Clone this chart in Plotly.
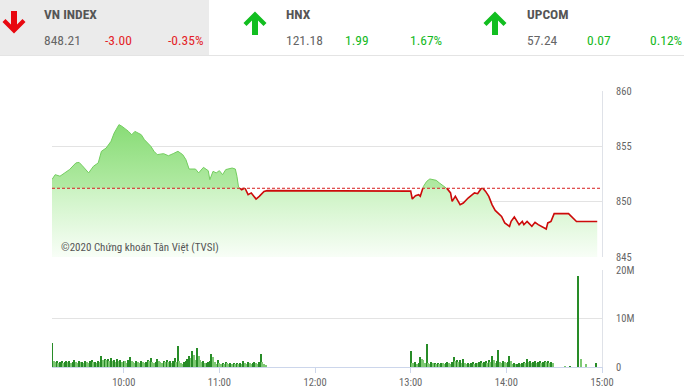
import numpy as np
import pandas as pd
import plotly.graph_objects as go

DAY = "2020-06-01"

# ---------------- data ----------------
price_times = ["09:15", "09:17", "09:20", "09:23", "09:26", "09:30", "09:32", "09:34", "09:38", "09:41",
               "09:44", "09:46", "09:49", "09:52", "09:54", "09:57", "09:59", "10:03", "10:05", "10:07",
               "10:09", "10:11", "10:13", "10:15", "10:17", "10:19", "10:21", "10:25", "10:28", "10:31",
               "10:34", "10:37", "10:39", "10:41", "10:45", "10:47", "10:50", "10:53", "10:54", "10:56",
               "10:58", "11:00", "11:02", "11:04", "11:08", "11:10", "11:11", "11:12", "11:14", "11:16",
               "11:18", "11:20", "11:23", "11:25", "11:28", "11:30",
               "13:00", "13:01", "13:03", "13:05", "13:06", "13:08", "13:10", "13:12", "13:14", "13:16",
               "13:18", "13:21", "13:23", "13:25", "13:26", "13:28", "13:31", "13:33", "13:36", "13:40",
               "13:42", "13:44", "13:45", "13:47", "13:49", "13:51", "13:53", "13:55", "13:57", "13:59",
               "14:02", "14:03", "14:05", "14:08", "14:10", "14:11", "14:13", "14:16", "14:18", "14:20",
               "14:22", "14:25", "14:26", "14:28", "14:30", "14:39", "14:44", "14:57"]
price_values = [852.00, 852.44, 852.30, 852.60, 852.90, 853.50, 853.55, 853.25, 852.60, 853.20,
                853.50, 854.55, 854.85, 855.45, 856.20, 856.96, 856.80, 856.35, 856.05, 856.35,
                856.20, 856.05, 855.60, 855.30, 855.00, 854.55, 854.25, 854.34, 854.15, 854.34,
                854.55, 854.25, 853.80, 852.95, 852.95, 852.60, 853.10, 852.80, 851.99, 852.74,
                852.60, 852.80, 852.44, 852.90, 853.04, 852.95, 852.30, 851.33, 851.08, 851.24,
                850.63, 850.79, 850.24, 850.48, 850.93, 851.00,
                850.95, 850.24, 850.54, 850.63, 850.48, 851.38, 851.83, 852.05, 851.99, 851.93,
                851.69, 851.38, 851.15, 850.79, 850.03, 850.48, 849.73, 849.88, 850.33, 850.79,
                850.72, 851.15, 851.24, 850.93, 850.48, 849.73, 849.21, 848.98, 848.67, 848.08,
                847.77, 848.22, 848.62, 847.92, 848.22, 847.92, 848.22, 847.77, 848.13, 847.92,
                847.77, 847.53, 848.08, 848.22, 848.92, 848.92, 848.21, 848.21]
ref_price = 851.21

vol_morning_start = "09:15"
vol_morning = [5.0, 1.2, 1.0, 1.3, 0.9, 1.1, 1.2, 0.8, 1.1, 1.3,
               1.0, 1.2, 0.9, 1.0, 1.4, 1.1, 0.8, 1.2, 1.0, 1.1,
               0.9, 1.3, 1.0, 0.9, 1.2, 1.5, 1.0, 1.1, 0.9, 1.3,
               1.0, 2.2, 1.4, 1.6, 1.5, 1.7, 1.3, 1.8, 1.2, 1.5,
               1.1, 1.6, 1.2, 1.4, 1.0, 1.3, 1.2, 0.9, 1.5, 2.0,
               1.3, 1.1, 0.9, 1.2, 1.0, 0.8, 1.3, 1.1, 0.9, 1.0,
               1.4, 1.2, 1.8, 1.0, 0.9, 1.1, 1.7, 1.3, 1.0, 0.8,
               1.2, 1.1, 1.5, 1.0, 1.3, 0.9, 1.2, 1.8, 1.0, 4.3,
               1.2, 0.9, 0.7, 1.0, 1.3, 1.6, 2.2, 1.8, 3.4, 2.5,
               1.4, 4.0, 2.2, 1.5, 1.0, 1.2, 0.8, 0.9, 1.0, 1.2,
               2.6, 2.1, 1.0, 0.7, 1.5, 0.8, 0.6, 0.9, 0.7, 1.0,
               0.8, 0.7, 0.9, 0.6, 0.8, 0.7, 0.9, 0.6, 0.8, 0.7,
               1.3, 0.9, 0.7, 1.0, 0.8, 0.6, 0.9, 1.1, 0.8, 0.7,
               1.0, 2.7, 1.1, 0.6, 0.4]
vol_afternoon_start = "13:00"
vol_afternoon = [3.4, 0.9, 0.8, 1.0, 0.7, 0.9, 2.0, 1.6, 1.4, 0.8,
                 4.8, 0.9, 0.7, 1.0, 0.8, 0.9, 0.6, 0.8, 0.7, 0.9,
                 0.8, 0.6, 0.9, 1.0, 0.8, 0.7, 1.1, 2.0, 1.3, 1.5,
                 1.0, 1.4, 0.9, 1.6, 0.8, 0.7, 0.9, 0.6, 0.8, 1.0,
                 0.7, 0.9, 0.8, 1.0, 1.2, 0.9, 1.1, 1.3, 0.9, 1.4,
                 1.0, 2.3, 1.5, 0.9, 1.2, 3.5, 1.1, 0.9, 1.2, 1.0,
                 0.8, 1.1, 2.3, 1.2, 0.7, 0.8, 0.6, 0.7, 0.8, 0.7,
                 0.9, 1.0, 0.8, 1.6, 1.0, 1.2, 0.9, 1.1, 1.3, 0.8,
                 1.0, 1.2, 0.9, 1.1, 1.3, 1.0, 1.2, 0.9, 1.1, 0.8]
vol_close_times = ["14:37", "14:40", "14:45", "14:47", "14:50", "14:56"]
vol_close = [0.2, 0.2, 18.7, 1.6, 0.7, 0.9]

price_ticks = [845, 850, 855, 860]
vol_ticks = [0, 10, 20]
vol_tick_labels = ["0", "10M", "20M"]
time_ticks = ["10:00", "11:00", "12:00", "13:00", "14:00", "15:00"]

index_names = ["VN INDEX", "HNX", "UPCOM"]
index_values = ["848.21", "121.18", "57.24"]
index_changes = ["-3.00", "1.99", "0.07"]
index_pcts = ["-0.35%", "1.67%", "0.12%"]
index_up = [False, True, True]
watermark = "©2020 Chứng khoán Tân Việt (TVSI)"

# ---------------- helpers ----------------
W, H = 684, 390
ML, MR = 52, 82
PW = W - ML - MR
FONT = "Liberation Sans Narrow, Roboto Condensed, Roboto, Arial, sans-serif"


def px(x):
    return (x - ML) / PW


def py(y):
    return 1 - y / H


def ts(s):
    return pd.Timestamp(f"{DAY} {s}")


# price line split at reference crossings
t = pd.to_datetime([f"{DAY} {s}" for s in price_times]).astype("int64").to_numpy()
v = np.array(price_values, dtype=float)
xs, ys = [], []
for i in range(len(v)):
    if i > 0 and (v[i - 1] - ref_price) * (v[i] - ref_price) < 0:
        f = (ref_price - v[i - 1]) / (v[i] - v[i - 1])
        xs.append(int(t[i - 1] + f * (t[i] - t[i - 1])))
        ys.append(ref_price)
    xs.append(int(t[i]))
    ys.append(v[i])
xs = pd.to_datetime(np.array(xs, dtype="int64"))
ys = np.array(ys)
green_y = [y if y >= ref_price - 1e-9 else None for y in ys]
red_y = [y if y <= ref_price + 1e-9 else None for y in ys]

# volumes
vt = (list(pd.date_range(ts(vol_morning_start), periods=len(vol_morning), freq="1min"))
      + list(pd.date_range(ts(vol_afternoon_start), periods=len(vol_afternoon), freq="1min"))
      + [ts(s) for s in vol_close_times])
vv = np.array(vol_morning + vol_afternoon + vol_close) * 1e6
vcol = ["rgb(40,140,40)" if (i == 0 or vv[i] >= vv[i - 1]) else "rgb(125,200,115)" for i in range(len(vv))]

fig = go.Figure()

lo, hi = price_ticks[0], 857.0
thr = (ref_price - lo) / (hi - lo)
fig.add_trace(go.Scatter(
    x=xs, y=ys, mode="none", fill="tozeroy",
    fillgradient=dict(type="vertical", start=lo, stop=hi,
                      colorscale=[[0, "rgb(248,254,247)"], [thr, "rgb(203,243,194)"],
                                  [thr, "rgb(178,234,164)"], [1, "rgb(136,220,118)"]]),
    hoverinfo="skip", xaxis="x", yaxis="y"))
fig.add_trace(go.Scatter(x=xs, y=green_y, mode="lines", line=dict(color="rgb(115,205,95)", width=1),
                         connectgaps=False, xaxis="x", yaxis="y"))
fig.add_trace(go.Scatter(x=xs, y=red_y, mode="lines", line=dict(color="rgb(205,10,10)", width=1.6),
                         connectgaps=False, xaxis="x", yaxis="y"))

fig.add_trace(go.Bar(x=vt, y=vv, marker=dict(color=vcol, line=dict(width=0)), width=42000,
                     xaxis="x2", yaxis="y2"))

xr = [ts("09:15"), ts("15:00")]
tick_font = dict(family=FONT, size=10.5, color="#666666")

fig.update_layout(
    template="none",
    width=W, height=H, margin=dict(l=ML, r=MR, t=0, b=0, pad=0, autoexpand=False),
    paper_bgcolor="white", plot_bgcolor="white", showlegend=False, bargap=0,
    xaxis=dict(domain=[0, 1], anchor="y", range=xr, showticklabels=False, showgrid=False,
               zeroline=False, showline=False, type="date", automargin=False, ticks=""),
    yaxis=dict(domain=[py(257), py(91)], anchor="x", range=[845, 860], side="right",
               tickvals=price_ticks, ticktext=[str(p) for p in price_ticks], tickfont=tick_font,
               showgrid=True, gridcolor="#e3e3e3", gridwidth=1, zeroline=False, automargin=False,
               showline=True, linecolor="#dfe2e8", linewidth=1, ticks="", ticklabelstandoff=11),
    xaxis2=dict(domain=[0, 1], anchor="y2", range=xr, type="date", automargin=False,
                tickvals=[ts(s) for s in time_ticks], ticktext=time_ticks, tickfont=tick_font,
                showgrid=False, zeroline=False, showline=True, linecolor="#ccd6eb", linewidth=1,
                ticks="outside", ticklen=5, tickcolor="#ccd6eb", ticklabelstandoff=0),
    yaxis2=dict(domain=[py(367), py(270)], anchor="x2", range=[0, 20e6], side="right",
                tickvals=[x * 1e6 for x in vol_ticks], ticktext=vol_tick_labels, tickfont=tick_font,
                showgrid=True, gridcolor="#e3e3e3", zeroline=False, automargin=False,
                showline=True, linecolor="#dfe2e8", ticks="", ticklabelstandoff=11),
)

shapes = []
# reference line
shapes.append(dict(type="line", xref="x domain", yref="y", x0=0, x1=1, y0=ref_price, y1=ref_price,
                   line=dict(color="rgb(215,30,30)", width=1, dash="3px,2px")))
# header background
shapes.append(dict(type="rect", xref="paper", yref="paper", x0=px(0), x1=px(209), y0=py(55), y1=py(0),
                   fillcolor="#ebebeb", line=dict(width=0), layer="below"))
shapes.append(dict(type="line", xref="paper", yref="paper", x0=px(0), x1=px(W), y0=py(55.5), y1=py(55.5),
                   line=dict(color="#e4e4e4", width=1)))


def arrow_path(cx, ytail, yhead):
    d = 1 if yhead > ytail else -1
    pts = [(cx - 3, ytail), (cx + 3, ytail), (cx + 3, yhead - d * 8.5), (cx + 8.5, yhead - d * 14),
           (cx + 11.5, yhead - d * 11), (cx, yhead + d * 0.5), (cx - 11.5, yhead - d * 11),
           (cx - 8.5, yhead - d * 14), (cx - 3, yhead - d * 8.5)]
    return "M " + " L ".join(f"{px(a):.5f},{py(b):.5f}" for a, b in pts) + " Z"


col_x = [(42, 14), (284, 255), (525, 495)]
for k in range(3):
    tx, ax = col_x[k]
    up = index_up[k]
    color = "rgb(18,190,32)" if up else "rgb(232,8,16)"
    path = arrow_path(ax, 35, 12) if up else arrow_path(ax, 11, 33)
    shapes.append(dict(type="path", xref="paper", yref="paper", path=path,
                       fillcolor=color, line=dict(width=0)))
fig.update_layout(shapes=shapes)

ann = []
chg_x = [(103, 166), (343, 408), (585, 648)]
for k in range(3):
    tx, _ = col_x[k]
    c = "rgb(20,185,35)" if index_up[k] else "rgb(228,30,40)"
    ann.append(dict(text=f"<b>{index_names[k]}</b>", x=px(tx), y=py(14.5), xref="paper", yref="paper",
                    xanchor="left", yanchor="middle", showarrow=False,
                    font=dict(family=FONT, size=13.5, color="#555555")))
    ann.append(dict(text=index_values[k], x=px(tx), y=py(40), xref="paper", yref="paper",
                    xanchor="left", yanchor="middle", showarrow=False,
                    font=dict(family=FONT, size=13.5, color="#666666")))
    ann.append(dict(text=index_changes[k], x=px(chg_x[k][0]), y=py(40), xref="paper", yref="paper",
                    xanchor="left", yanchor="middle", showarrow=False,
                    font=dict(family=FONT, size=13.5, color=c)))
    ann.append(dict(text=index_pcts[k], x=px(chg_x[k][1]), y=py(40), xref="paper", yref="paper",
                    xanchor="left", yanchor="middle", showarrow=False,
                    font=dict(family=FONT, size=13.5, color=c)))
ann.append(dict(text=watermark, x=px(59), y=py(248), xref="paper", yref="paper",
                xanchor="left", yanchor="middle", showarrow=False,
                font=dict(family=FONT, size=11, color="#555555")))
fig.update_layout(annotations=ann)

fig.write_html("out.html", config={"displayModeBar": False})
